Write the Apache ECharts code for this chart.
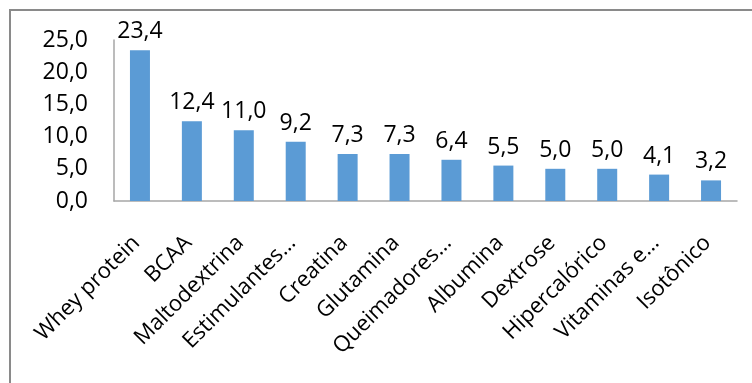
<!DOCTYPE html>
<html>
<head>
<meta charset="utf-8">
<script src="https://cdn.jsdelivr.net/npm/echarts@6/dist/echarts.min.js"></script>
<style>
  html, body { margin: 0; padding: 0; background: #fff; }
  #chart { width: 752px; height: 383px; }
</style>
</head>
<body>
<div id="chart"></div>
<script>
// Supplement categories and their shares (%)
const categories = [
  'Whey protein', 'BCAA', 'Maltodextrina', 'Estimulantes…', 'Creatina',
  'Glutamina', 'Queimadores…', 'Albumina', 'Dextrose', 'Hipercalórico',
  'Vitaminas e…', 'Isotônico'
];
const shares = [23.4, 12.4, 11.0, 9.2, 7.3, 7.3, 6.4, 5.5, 5.0, 5.0, 4.1, 3.2];

const FONT = '"Open Sans", sans-serif';
const fmt = v => Number(v).toFixed(1).replace('.', ',');

const chart = echarts.init(document.getElementById('chart'), null, { renderer: 'canvas' });
chart.setOption({
  animation: false,
  backgroundColor: '#ffffff',
  graphic: [{
    type: 'rect',
    silent: true,
    shape: { x: 10, y: 10, width: 800, height: 400 },
    style: { fill: 'none', stroke: '#8a8a8a', lineWidth: 2 }
  }],
  grid: { left: 114, right: 15, top: 40, bottom: 182, containLabel: false },
  xAxis: {
    type: 'category',
    data: categories,
    axisLine: { show: true, lineStyle: { color: '#a6a6a6', width: 1.5 } },
    axisTick: { show: false },
    axisLabel: {
      interval: 0,
      rotate: 45,
      margin: 35,
      padding: [0, 5, 0, 0],
      color: '#000',
      fontFamily: FONT,
      fontSize: 22
    }
  },
  yAxis: {
    type: 'value',
    min: 0,
    max: 25,
    interval: 5,
    splitLine: { show: false },
    axisLine: { show: true, lineStyle: { color: '#a6a6a6', width: 1.5 } },
    axisTick: { show: false },
    axisLabel: {
      margin: 26,
      color: '#000',
      fontFamily: FONT,
      fontSize: 23,
      formatter: v => fmt(v)
    }
  },
  series: [{
    type: 'bar',
    data: shares,
    barWidth: 20,
    itemStyle: { color: '#5b9bd5' },
    label: {
      show: true,
      position: 'top',
      distance: 7,
      color: '#000',
      fontFamily: FONT,
      fontSize: 23,
      formatter: p => fmt(p.value)
    }
  }]
});
</script>
</body>
</html>
